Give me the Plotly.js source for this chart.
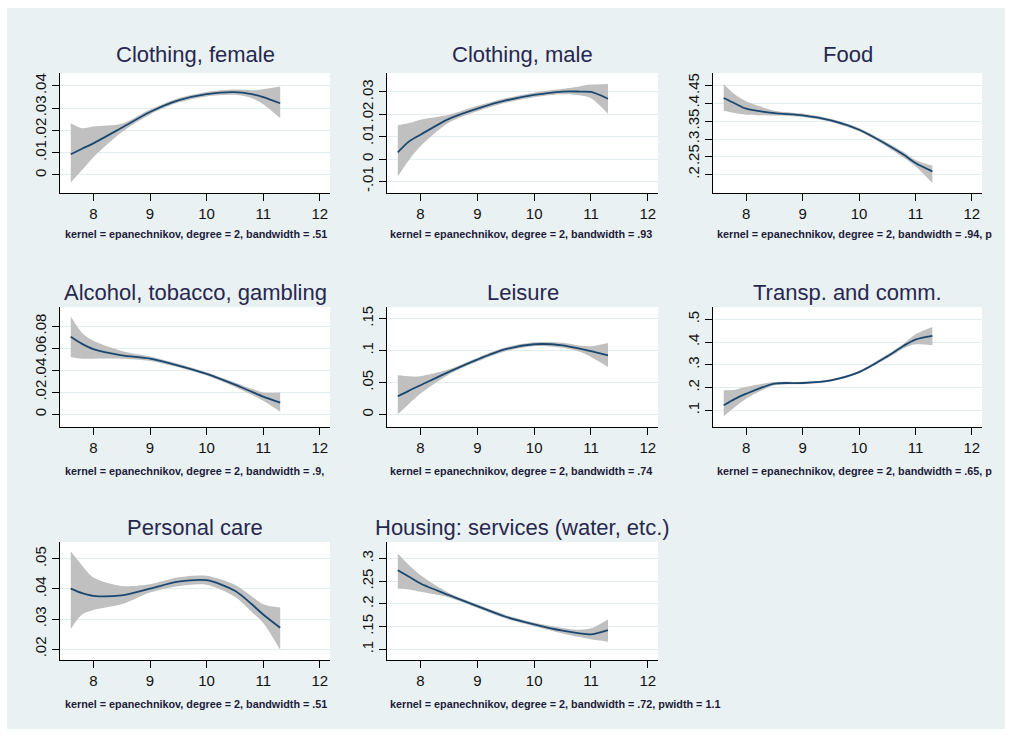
<!DOCTYPE html>
<html>
<head>
<meta charset="utf-8">
<script src="https://cdn.plot.ly/plotly-3.0.1.min.js"></script>
<style>
html,body{margin:0;padding:0;background:#ffffff;}
#chart{width:1012px;height:737px;}
</style>
</head>
<body>
<div id="chart"></div>
<script>
// ---- data ----
const logIncome = [7.6, 7.8, 8.0, 8.5, 9.0, 9.5, 10.0, 10.5, 10.8, 11.0, 11.3];

const panelTitles = ["Clothing, female", "Clothing, male", "Food",
  "Alcohol, tobacco, gambling", "Leisure", "Transp. and comm.",
  "Personal care", "Housing: services (water, etc.)"];

const panelNotes = [
  "kernel = epanechnikov, degree = 2, bandwidth = .51",
  "kernel = epanechnikov, degree = 2, bandwidth = .93",
  "kernel = epanechnikov, degree = 2, bandwidth = .94, p",
  "kernel = epanechnikov, degree = 2, bandwidth = .9,",
  "kernel = epanechnikov, degree = 2, bandwidth = .74",
  "kernel = epanechnikov, degree = 2, bandwidth = .65, p",
  "kernel = epanechnikov, degree = 2, bandwidth = .51",
  "kernel = epanechnikov, degree = 2, bandwidth = .72, pwidth = 1.1"];

const xTickVals = [8, 9, 10, 11, 12];

// Clothing, female
const clothFemFit = [0.0093, 0.0118, 0.0142, 0.0212, 0.0283, 0.0335, 0.0363, 0.0372, 0.0363, 0.0350, 0.0322];
const clothFemHi  = [0.0232, 0.0210, 0.0218, 0.0230, 0.0294, 0.0345, 0.0373, 0.0384, 0.0381, 0.0385, 0.0397];
const clothFemLo  = [-0.0034, 0.0022, 0.0080, 0.0192, 0.0272, 0.0325, 0.0353, 0.0360, 0.0345, 0.0318, 0.0255];
const clothFemTicks = [0, 0.01, 0.02, 0.03, 0.04];
const clothFemTickText = ["0", ".01", ".02", ".03", ".04"];

// Clothing, male
const clothMaleFit = [0.0030, 0.0079, 0.0109, 0.0180, 0.0226, 0.0262, 0.0287, 0.0302, 0.0302, 0.0300, 0.0270];
const clothMaleHi  = [0.0151, 0.0161, 0.0176, 0.0198, 0.0238, 0.0272, 0.0297, 0.0314, 0.0325, 0.0333, 0.0336];
const clothMaleLo  = [-0.0078, -0.0003, 0.0057, 0.0163, 0.0214, 0.0252, 0.0277, 0.0290, 0.0285, 0.0272, 0.0203];
const clothMaleTicks = [-0.01, 0, 0.01, 0.02, 0.03];
const clothMaleTickText = ["-.01", "0", ".01", ".02", ".03"];

// Food
const foodFit = [0.4154, 0.4000, 0.3854, 0.3730, 0.3667, 0.3526, 0.3264, 0.2843, 0.2550, 0.2328, 0.2094];
const foodHi  = [0.4547, 0.4250, 0.4060, 0.3800, 0.3720, 0.3570, 0.3310, 0.2900, 0.2630, 0.2410, 0.2253];
const foodLo  = [0.3798, 0.3730, 0.3685, 0.3660, 0.3620, 0.3480, 0.3220, 0.2780, 0.2470, 0.2240, 0.1766];
const foodTicks = [0.2, 0.25, 0.3, 0.35, 0.4, 0.45];
const foodTickText = [".2", ".25", ".3", ".35", ".4", ".45"];

// Alcohol, tobacco, gambling
const alcFit = [0.0705, 0.0640, 0.0592, 0.0536, 0.0506, 0.0444, 0.0368, 0.0270, 0.0205, 0.0162, 0.0107];
const alcHi  = [0.0889, 0.0740, 0.0668, 0.0576, 0.0526, 0.0460, 0.0383, 0.0290, 0.0232, 0.0200, 0.0199];
const alcLo  = [0.0521, 0.0506, 0.0506, 0.0506, 0.0486, 0.0428, 0.0353, 0.0250, 0.0178, 0.0124, 0.0025];
const alcTicks = [0, 0.02, 0.04, 0.06, 0.08];
const alcTickText = ["0", ".02", ".04", ".06", ".08"];

// Leisure
const leisFit = [0.0286, 0.0375, 0.0458, 0.0667, 0.0859, 0.1021, 0.1099, 0.1083, 0.1030, 0.0990, 0.0927];
const leisHi  = [0.0615, 0.0600, 0.0600, 0.0707, 0.0889, 0.1051, 0.1129, 0.1123, 0.1080, 0.1068, 0.1120];
const leisLo  = [0.0005, 0.0170, 0.0328, 0.0627, 0.0829, 0.0991, 0.1069, 0.1043, 0.0980, 0.0901, 0.0745];
const leisTicks = [0, 0.05, 0.1, 0.15];
const leisTickText = ["0", ".05", ".1", ".15"];

// Transp. and comm.
const transFit = [0.122, 0.150, 0.173, 0.217, 0.220, 0.232, 0.268, 0.337, 0.385, 0.411, 0.427];
const transHi  = [0.188, 0.190, 0.203, 0.224, 0.225, 0.237, 0.273, 0.345, 0.395, 0.434, 0.466];
const transLo  = [0.074, 0.115, 0.151, 0.210, 0.215, 0.227, 0.263, 0.329, 0.373, 0.390, 0.386];
const transTicks = [0.1, 0.2, 0.3, 0.4, 0.5];
const transTickText = [".1", ".2", ".3", ".4", ".5"];

// Personal care
const careFit = [0.0401, 0.0386, 0.0377, 0.0379, 0.0401, 0.0424, 0.0429, 0.0394, 0.0349, 0.0315, 0.0271];
const careHi  = [0.0525, 0.0478, 0.0438, 0.0410, 0.0416, 0.0439, 0.0444, 0.0414, 0.0375, 0.0349, 0.0338];
const careLo  = [0.0267, 0.0315, 0.0330, 0.0349, 0.0388, 0.0409, 0.0414, 0.0374, 0.0323, 0.0287, 0.0198];
const careTicks = [0.02, 0.03, 0.04, 0.05];
const careTickText = [".02", ".03", ".04", ".05"];

// Housing: services
const housFit = [0.2744, 0.2600, 0.2450, 0.2194, 0.1952, 0.1718, 0.1550, 0.1410, 0.1350, 0.1330, 0.1425];
const housHi  = [0.3110, 0.2850, 0.2634, 0.2244, 0.1992, 0.1758, 0.1590, 0.1470, 0.1430, 0.1462, 0.1660];
const housLo  = [0.2340, 0.2320, 0.2267, 0.2144, 0.1912, 0.1678, 0.1510, 0.1350, 0.1270, 0.1220, 0.1168];
const housTicks = [0.1, 0.15, 0.2, 0.25, 0.3];
const housTickText = [".1", ".15", ".2", ".25", ".3"];

// ---- assemble ----
const panels = [
  {fit: clothFemFit, hi: clothFemHi, lo: clothFemLo, tv: clothFemTicks, tt: clothFemTickText, yr: [-0.0081, 0.0458]},
  {fit: clothMaleFit, hi: clothMaleHi, lo: clothMaleLo, tv: clothMaleTicks, tt: clothMaleTickText, yr: [-0.0152, 0.0385]},
  {fit: foodFit, hi: foodHi, lo: foodLo, tv: foodTicks, tt: foodTickText, yr: [0.1486, 0.4857]},
  {fit: alcFit, hi: alcHi, lo: alcLo, tv: alcTicks, tt: alcTickText, yr: [-0.0114, 0.0975]},
  {fit: leisFit, hi: leisHi, lo: leisLo, tv: leisTicks, tt: leisTickText, yr: [-0.0194, 0.1681]},
  {fit: transFit, hi: transHi, lo: transLo, tv: transTicks, tt: transTickText, yr: [0.0266, 0.554]},
  {fit: careFit, hi: careHi, lo: careLo, tv: careTicks, tt: careTickText, yr: [0.0164, 0.0556]},
  {fit: housFit, hi: housHi, lo: housLo, tv: housTicks, tt: housTickText, yr: [0.0765, 0.3365]}
];

const W = 1012, H = 737;
const colLeft = [60, 387, 713], colRight = [330, 658, 982];
const rowTop = [73, 307, 542], rowBottom = [193, 427, 660];
const titleY = [55, 292, 527];
const noteY = [234, 471, 704];
const noteX = [63, 388, 715];

const FONT = "Liberation Sans, Arial, sans-serif";
const NAVY = "#1a476f";
const BAND = "#c0c0c0";

const traces = [];
const layout = {
  width: W, height: H,
  margin: {l: 0, r: 0, t: 0, b: 0},
  paper_bgcolor: "#eaf1f3",
  plot_bgcolor: "#ffffff",
  showlegend: false,
  font: {family: FONT, color: "#111111"},
  annotations: [],
  shapes: [
    {type: "rect", xref: "paper", yref: "paper", x0: 0, x1: 1, y0: 1 - 8 / H, y1: 1, fillcolor: "#ffffff", line: {width: 0}, layer: "above"},
    {type: "rect", xref: "paper", yref: "paper", x0: 0, x1: 1, y0: 0, y1: 8 / H, fillcolor: "#ffffff", line: {width: 0}, layer: "above"},
    {type: "rect", xref: "paper", yref: "paper", x0: 0, x1: 7 / W, y0: 0, y1: 1, fillcolor: "#ffffff", line: {width: 0}, layer: "above"},
    {type: "rect", xref: "paper", yref: "paper", x0: 1 - 7 / W, x1: 1, y0: 0, y1: 1, fillcolor: "#ffffff", line: {width: 0}, layer: "above"}
  ]
};

panels.forEach((p, i) => {
  const r = Math.floor(i / 3), c = i % 3;
  const xa = i === 0 ? "x" : "x" + (i + 1);
  const ya = i === 0 ? "y" : "y" + (i + 1);
  const xk = i === 0 ? "xaxis" : "xaxis" + (i + 1);
  const yk = i === 0 ? "yaxis" : "yaxis" + (i + 1);

  traces.push({x: logIncome, y: p.lo, xaxis: xa, yaxis: ya, mode: "lines",
    line: {width: 0, shape: "spline", smoothing: 0.8}, hoverinfo: "skip"});
  traces.push({x: logIncome, y: p.hi, xaxis: xa, yaxis: ya, mode: "lines",
    line: {width: 0, shape: "spline", smoothing: 0.8}, fill: "tonexty", fillcolor: BAND, hoverinfo: "skip"});
  traces.push({x: logIncome, y: p.fit, xaxis: xa, yaxis: ya, mode: "lines",
    line: {width: 1.8, color: NAVY, shape: "spline", smoothing: 0.8}});

  layout[xk] = {
    domain: [colLeft[c] / W, colRight[c] / W],
    anchor: ya, range: [7.41, 12.18],
    tickmode: "array", tickvals: xTickVals, ticktext: xTickVals.map(String),
    showgrid: false, zeroline: false,
    showline: true, linecolor: "#000000", linewidth: 1,
    ticks: "outside", ticklen: 7, tickcolor: "#000000", tickwidth: 1,
    tickfont: {size: 15, family: FONT, color: "#111111"},
    fixedrange: true
  };
  layout[yk] = {
    domain: [1 - rowBottom[r] / H, 1 - rowTop[r] / H],
    anchor: xa, range: p.yr,
    tickmode: "array", tickvals: p.tv, ticktext: p.tt, tickangle: -90,
    showgrid: true, gridcolor: "#e3ecef", gridwidth: 1, zeroline: false,
    showline: true, linecolor: "#000000", linewidth: 1,
    ticks: "outside", ticklen: 7, tickcolor: "#000000", tickwidth: 1,
    tickfont: {size: 15, family: FONT, color: "#111111"},
    fixedrange: true
  };

  layout.annotations.push({
    text: panelTitles[i], xref: "paper", yref: "paper",
    x: (colLeft[c] + colRight[c]) / 2 / W, y: 1 - titleY[r] / H,
    xanchor: "center", yanchor: "middle", showarrow: false,
    font: {size: 22, family: FONT, color: "#27284f"}
  });
  layout.annotations.push({
    text: "<b>" + panelNotes[i] + "</b>", xref: "paper", yref: "paper",
    x: noteX[c] / W, y: 1 - noteY[r] / H,
    xanchor: "left", yanchor: "middle", showarrow: false,
    font: {size: 10.8, family: FONT, color: "#1c1c3a"}
  });
});

Plotly.newPlot("chart", traces, layout, {displayModeBar: false, staticPlot: true});
</script>
</body>
</html>
